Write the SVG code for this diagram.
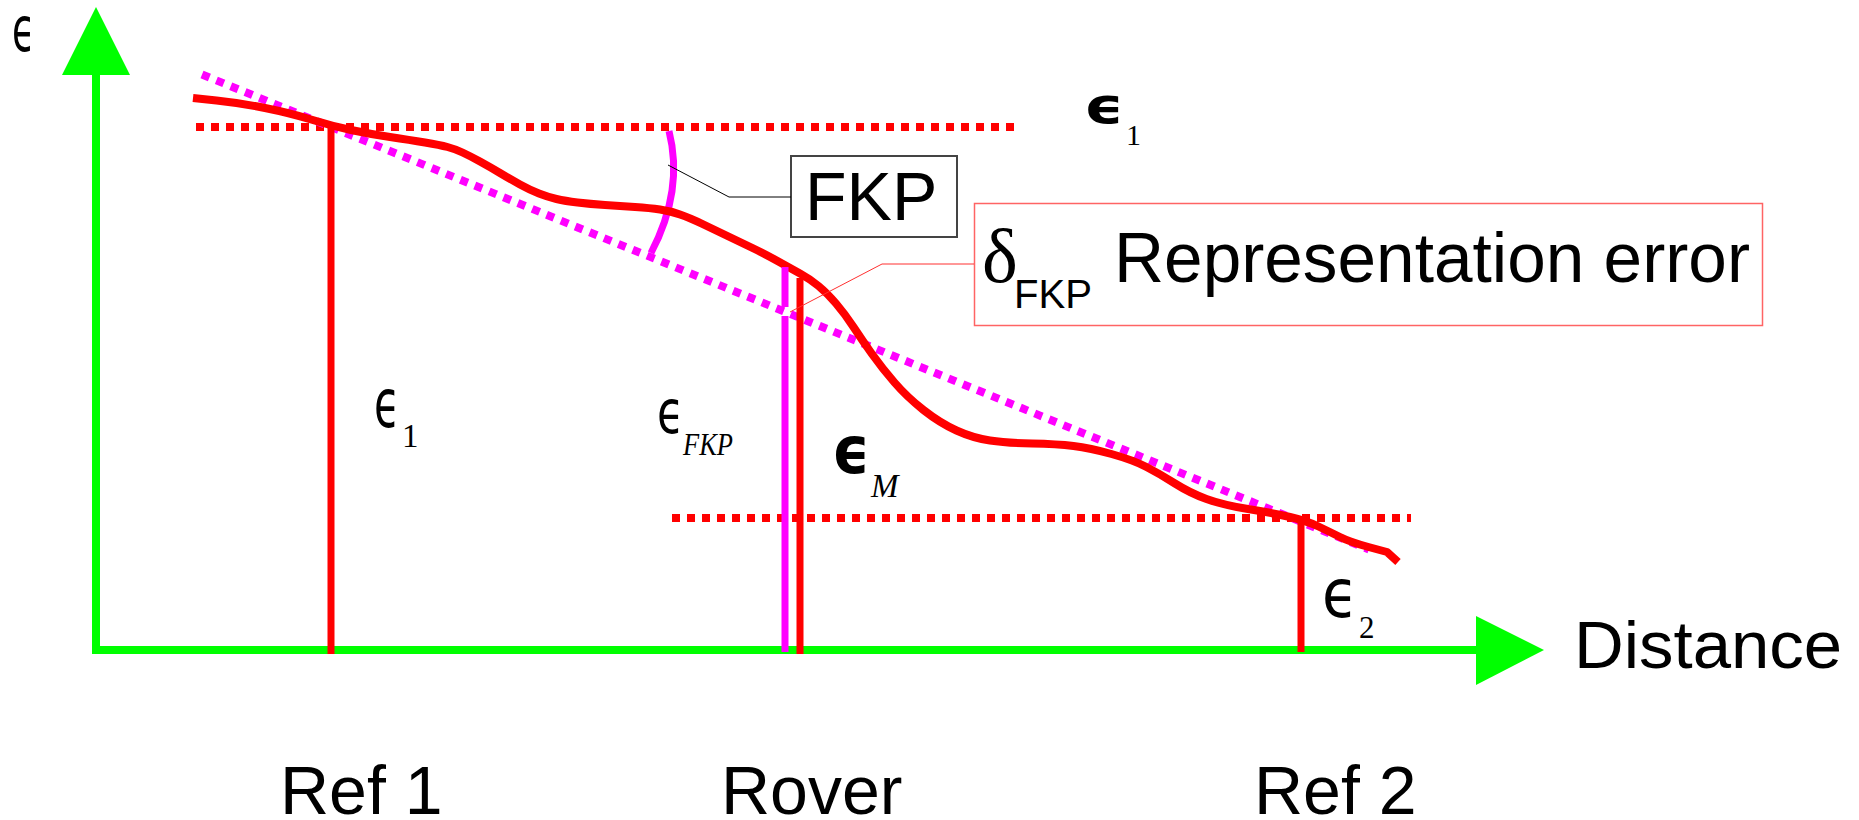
<svg xmlns="http://www.w3.org/2000/svg" width="1859" height="820" viewBox="0 0 1859 820">
<style>
.axis{stroke:#00ff00;stroke-width:8;fill:none}
.arrow{fill:#00ff00}
.red{stroke:#ff0000;stroke-width:7;fill:none}
.curve{stroke:#ff0000;stroke-width:8;fill:none;stroke-linejoin:round}
.rdot{stroke:#ff0000;stroke-width:8;fill:none;stroke-dasharray:8 7}
.mdot{stroke:#ff00ff;stroke-width:8;fill:none;stroke-dasharray:8 7.5}
.mag{stroke:#ff00ff;stroke-width:7;fill:none}
.eps{font-family:"DejaVu Sans",sans-serif;fill:#000}
.sub{font-family:"Liberation Serif",serif;fill:#000}
.lbl{font-family:"Liberation Sans",Arial,sans-serif;fill:#000}
</style>
<rect width="1859" height="820" fill="#fff"/>
<g id="y-axis">
<line class="axis" x1="96" y1="75" x2="96" y2="654"/>
<polygon class="arrow" points="96,7 130,75 62,75"/>
<text class="eps" x="12" y="51" font-size="62" textLength="23" lengthAdjust="spacingAndGlyphs">ϵ</text>
</g>
<g id="x-axis">
<line class="axis" x1="92" y1="650" x2="1478" y2="650"/>
<polygon class="arrow" points="1476,616 1544,650 1476,685"/>
<text class="lbl" x="1574" y="668" font-size="67" textLength="268" lengthAdjust="spacingAndGlyphs">Distance</text>
</g>
<g id="levels">
<line class="rdot" x1="196" y1="127" x2="1017" y2="127"/>
<line class="rdot" x1="672" y1="518" x2="1411" y2="518"/>
</g>
<g id="fkp-plane">
<line class="mdot" x1="202" y1="74.5" x2="1369" y2="549.5"/>
<path class="mag" d="M669,131 Q684,190 651,253"/>
</g>
<g id="true-error">
<path class="curve" d="M193,98 L216.5,100.5 Q240,103 265,108 Q290,113 311,119.5 Q332,126 351,130 Q370,134 390,137 Q410,140 425,142.5 Q440,145 447.5,147 Q455,149 462.5,152.5 Q470,156 480,161.5 Q490,167 500,173 Q510,179 520,184.5 Q530,190 539,193.5 Q548,197 556.5,199 Q565,201 577.5,202.5 Q590,204 605,205 Q620,206 635,207 Q650,208 660,209.5 Q670,211 680,214.5 Q690,218 702.5,224 Q715,230 727.5,236 Q740,242 752.5,248 Q765,254 777.5,261 Q790,268 800,273.5 Q810,279 818.5,286 Q827,293 836,303.5 Q845,314 853.5,327 Q862,340 872,354 Q882,368 894.5,382.5 Q907,397 923.5,410 Q940,423 956.5,430.5 Q973,438 990,440.5 Q1007,443 1032,443.5 Q1057,444 1073.5,446 Q1090,448 1111.5,454 Q1133,460 1146.5,467 Q1160,474 1175,483.5 Q1190,493 1206.5,499 Q1223,505 1248,509 Q1273,513 1290,517 Q1307,521 1318.5,526.5 Q1330,532 1340,537 Q1350,542 1368.5,547 L1387,552 L1398,562"/>
</g>
<g id="ref1">
<line class="red" x1="331" y1="127" x2="331" y2="654"/>
<text x="374" y="427"><tspan class="eps" font-size="67" textLength="26" lengthAdjust="spacingAndGlyphs">ϵ</tspan><tspan class="sub" x="402" y="447" font-size="33">1</tspan></text>
<text class="lbl" x="280" y="814" font-size="68">Ref 1</text>
</g>
<g id="rover">
<line class="mag" x1="785" y1="267" x2="785" y2="307"/>
<line class="mag" x1="785" y1="316" x2="785" y2="652"/>
<line class="red" x1="800" y1="278" x2="800" y2="654"/>
<text x="657" y="433"><tspan class="eps" font-size="60" textLength="27" lengthAdjust="spacingAndGlyphs">ϵ</tspan><tspan class="sub" x="683" y="455" font-size="31" font-style="italic" textLength="50" lengthAdjust="spacingAndGlyphs">FKP</tspan></text>
<text x="832" y="473"><tspan class="eps" font-size="65" font-weight="bold" textLength="38" lengthAdjust="spacingAndGlyphs">ϵ</tspan><tspan class="sub" x="871" y="497" font-size="33" font-style="italic">M</tspan></text>
<text class="lbl" x="721" y="814" font-size="68">Rover</text>
</g>
<g id="ref2">
<line class="red" x1="1301" y1="518" x2="1301" y2="652"/>
<text x="1322" y="617"><tspan class="eps" font-size="67" textLength="36" lengthAdjust="spacingAndGlyphs">ϵ</tspan><tspan class="sub" x="1359" y="638" font-size="31">2</tspan></text>
<text class="lbl" x="1254" y="814" font-size="68">Ref 2</text>
</g>
<g id="eps1-label">
<text x="1084" y="123"><tspan class="eps" font-size="49" font-weight="bold" textLength="40" lengthAdjust="spacingAndGlyphs">ϵ</tspan><tspan class="sub" x="1126" y="145" font-size="30">1</tspan></text>
</g>
<g id="fkp-box">
<rect x="791" y="156" width="166" height="81" fill="#fff" stroke="#444" stroke-width="2"/>
<text class="lbl" x="805" y="220" font-size="68">FKP</text>
</g>
<g id="delta-box">
<rect x="974.5" y="203.5" width="788" height="122" fill="#fff" stroke="#ff6464" stroke-width="1.5"/>
<text x="982" y="282"><tspan font-size="76" font-family="Liberation Serif,serif">δ</tspan><tspan class="lbl" x="1014" y="308" font-size="40" textLength="78" lengthAdjust="spacingAndGlyphs">FKP</tspan></text>
<text class="lbl" x="1114" y="282" font-size="70" textLength="636" lengthAdjust="spacingAndGlyphs">Representation error</text>
</g>
<g id="connectors">
<polyline points="668,165 729,197 791,197" fill="none" stroke="#000" stroke-width="1"/>
<polyline points="790,312 882,264 974,264" fill="none" stroke="#ff3030" stroke-width="1"/>
</g>
</svg>
